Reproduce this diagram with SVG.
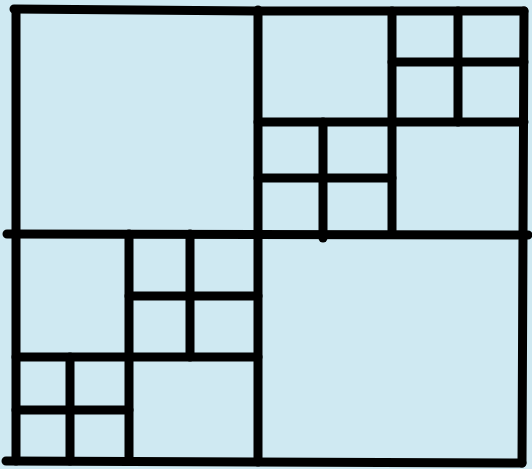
<svg xmlns="http://www.w3.org/2000/svg" width="532" height="469" viewBox="0 0 532 469">
<style>
.l{stroke:#000;stroke-width:9;stroke-linecap:round;fill:none}
</style>
<rect width="532" height="469" fill="#cfe9f2"/>
<g id="outer">
<path class="l" d="M16 10 L16 461"/>
<path class="l" d="M14 9 L258 11 L524 11"/>
<path class="l" d="M524 11 L522 463"/>
<path class="l" d="M6 461 L522 463"/>
<path class="l" d="M258 10 L258 462"/>
<path class="l" d="M7 234 L528 235"/>
</g>
<g id="top-right">
<path class="l" d="M392 11 L392 234"/>
<path class="l" d="M258 122 L524 122"/>
<path class="l" d="M458 11 L458 122"/>
<path class="l" d="M392 62 L524 62"/>
<path class="l" d="M323 122 L323 238"/>
<path class="l" d="M258 178 L392 178"/>
</g>
<g id="bottom-left">
<path class="l" d="M129 234 L129 461"/>
<path class="l" d="M16 357 L258 357"/>
<path class="l" d="M190 234 L190 357"/>
<path class="l" d="M129 296 L258 296"/>
<path class="l" d="M70 357 L70 461"/>
<path class="l" d="M16 410 L129 410"/>
</g>
</svg>
